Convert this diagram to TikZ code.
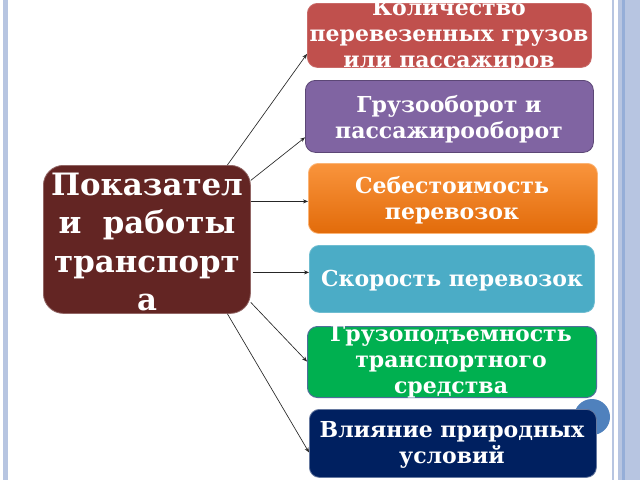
\documentclass[tikz,border=0pt]{standalone}
\usepackage{fontspec}
\setmainfont{DejaVu Serif}
\usetikzlibrary{arrows.meta}
\definecolor{cRed}{HTML}{C0504D}
\definecolor{cPurple}{HTML}{8064A2}
\definecolor{cPurpleB}{HTML}{5C4776}
\definecolor{cOrangeT}{HTML}{F9943C}
\definecolor{cOrangeB}{HTML}{E26B0A}
\definecolor{cTeal}{HTML}{4BACC6}
\definecolor{cGreen}{HTML}{00B050}
\definecolor{cGreenB}{HTML}{4F6E9A}
\definecolor{cNavy}{HTML}{002060}
\definecolor{cMain}{HTML}{632523}
\definecolor{cFrame}{HTML}{B7C5E1}
\definecolor{cFrameD}{HTML}{95AED8}
\definecolor{cCircle}{HTML}{4F81BD}
\tikzset{
  boxshape/.style={rounded corners=10pt, inner sep=0pt, anchor=north west},
  boxtext/.style={text=white, font=\bfseries\fontsize{22}{26}\selectfont, align=center, inner sep=0pt},
  conn/.style={draw=black!85, line width=0.65pt, -{Stealth[length=5pt,width=4pt]}}
}
\begin{document}
\begin{tikzpicture}[x=1pt,y=-1pt]
\useasboundingbox (0,0) rectangle (640,480);
\fill[white] (0,0) rectangle (640,480);
% frame
\fill[cFrame] (3,0) rectangle (7.5,480);
\fill[cFrame] (612,0) rectangle (614,480);
\fill[cFrame] (618,0) rectangle (622,480);
\fill[cFrameD] (622,0) rectangle (624.5,480);
\fill[cFrame] (624.5,0) rectangle (640,480);
% circle
\fill[cCircle] (592,417) circle (18);
% boxes
\node[boxshape, fill=cRed, draw=cRed!85!white, line width=0.8pt, minimum width=284pt, minimum height=64pt] (b1) at (307,3) {};
\node[boxshape, fill=cPurple, draw=cPurpleB, line width=0.8pt, minimum width=288pt, minimum height=72pt] (b2) at (305,80) {};
\node[boxshape, top color=cOrangeT, bottom color=cOrangeB, draw=cOrangeT!70!white, line width=0.8pt, minimum width=289pt, minimum height=70pt] (b3) at (308,163) {};
\node[boxshape, fill=cTeal, draw=cTeal!80!white, line width=0.8pt, minimum width=285pt, minimum height=67pt] (b4) at (309,245) {};
\node[boxshape, fill=cGreen, draw=cGreenB, line width=1pt, minimum width=289pt, minimum height=71pt] (b5) at (307,326) {};
\node[boxshape, fill=cNavy, draw=cNavy!60!white, line width=0.8pt, minimum width=287pt, minimum height=68pt] (b6) at (309,409) {};
% texts
\node[boxtext] (t1) at (449,36) {Количество\\перевезенных грузов\\или пассажиров};
\node[boxtext] (t2) at (449,119) {Грузооборот и\\пассажирооборот};
\node[boxtext] (t3) at (452,200) {Себестоимость\\перевозок};
\node[boxtext] (t4) at (452,281) {Скорость перевозок};
\node[boxtext] (t5) at (451,362) {Грузоподъемность\\транспортного\\средства};
\node[boxtext] (t6) at (452,445) {Влияние природных\\условий};
% main
\node[rounded corners=20pt, fill=cMain, draw=cMain!70!white, line width=0.8pt, minimum width=207pt, minimum height=148pt, anchor=north west, inner sep=0pt] (m) at (43,165) {};
\node[text=white, font=\bfseries\fontsize{30.8}{38.5}\selectfont, align=center, inner sep=0pt] (mt) at (147,242) {Показател\\и\ \ работы\\транспорт\\а};
% connectors
\coordinate (s1) at ([xshift=80.5pt]m.north);
\coordinate (s2) at ([yshift=59pt]m.east);
\coordinate (s3) at ([yshift=38pt]m.east);
\coordinate (s4) at ([xshift=2pt,yshift=-33pt]m.east);
\coordinate (s5) at ([yshift=-63pt]m.east);
\coordinate (s6) at ([xshift=80.5pt]m.south);
\draw[conn] (s1) -- ([yshift=-18.5pt]b1.west);
\draw[conn] (s2) -- ([yshift=-21pt]b2.west);
\draw[conn] (s3) -- ([yshift=-3pt]b3.west);
\draw[conn] (s4) -- ([yshift=6.5pt]b4.west);
\draw[conn] (s5) -- ([yshift=0.5pt]b5.west);
\draw[conn] (s6) -- ([yshift=-9pt]b6.west);
\end{tikzpicture}
\end{document}
